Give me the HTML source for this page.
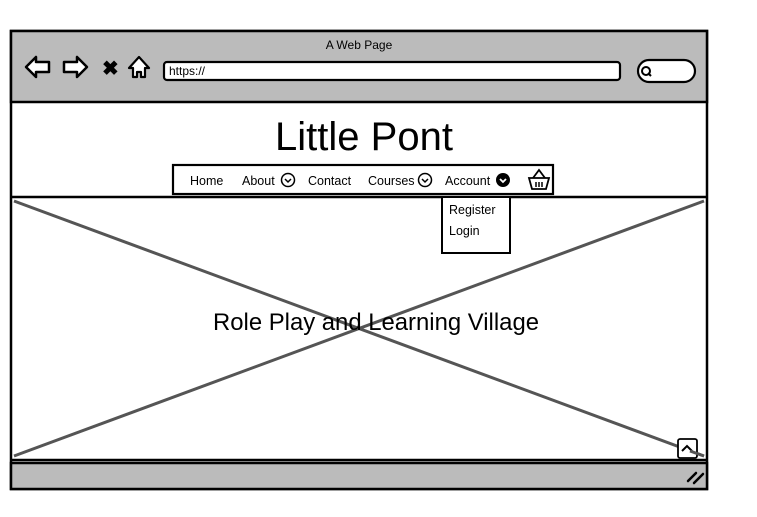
<!DOCTYPE html>
<html><head><meta charset="utf-8"><style>
html,body{margin:0;padding:0;background:#fff;width:757px;height:517px;overflow:hidden}
svg{display:block}
text{font-family:"Liberation Sans",sans-serif;fill:#000}
</style></head><body>
<svg width="757" height="517" viewBox="0 0 757 517">
<rect x="11" y="31" width="696" height="458" fill="#fff" stroke="#000" stroke-width="2.5"/>
<rect x="11" y="31" width="696" height="71" fill="#bbb" stroke="#000" stroke-width="2.5"/>
<text x="359" y="49" font-size="12" text-anchor="middle">A Web Page</text>
<path d="M26 67 L36 57 L36 62 L49 62 L49 72 L36 72 L36 77 Z" fill="#fff" stroke="#000" stroke-width="2.5" stroke-linejoin="round"/>
<path d="M87 67 L77 57 L77 62 L64 62 L64 72 L77 72 L77 77 Z" fill="#fff" stroke="#000" stroke-width="2.5" stroke-linejoin="round"/>
<text x="102" y="75" font-size="20" font-weight="bold">✖</text>
<path d="M129 68 L139 57 L149 68 L145 68 L145 77 L141 77 L141 72 L137 72 L137 77 L133 77 L133 68 Z" fill="#fff" stroke="#000" stroke-width="2.2" stroke-linejoin="round"/>
<rect x="164" y="62" width="456" height="18" rx="3" fill="#fff" stroke="#000" stroke-width="2.2"/>
<text x="169" y="75" font-size="12">https://</text>
<rect x="638" y="60" width="57" height="22" rx="11" fill="#fff" stroke="#000" stroke-width="2.2"/>
<circle cx="646" cy="71" r="4" fill="none" stroke="#000" stroke-width="2"/>
<line x1="648" y1="73" x2="651" y2="76" stroke="#000" stroke-width="2"/>
<text x="364" y="150" font-size="40" text-anchor="middle">Little Pont</text>
<rect x="173" y="165" width="380" height="29" fill="#fff" stroke="#000" stroke-width="2.2"/>
<g font-size="12.5">
<text x="190" y="185">Home</text>
<text x="242" y="185">About</text>
<circle cx="288" cy="180" r="6.5" fill="none" stroke="#000" stroke-width="1.5"/>
<path d="M285 179 L288 182 L291 179" fill="none" stroke="#000" stroke-width="1.5"/>
<text x="308" y="185">Contact</text>
<text x="368" y="185">Courses</text>
<circle cx="425" cy="180" r="6.5" fill="none" stroke="#000" stroke-width="1.5"/>
<path d="M422 179 L425 182 L428 179" fill="none" stroke="#000" stroke-width="1.5"/>
<text x="445" y="185">Account</text>
<circle cx="503" cy="180" r="7" fill="#000"/>
<path d="M500 179 L503 182 L506 179" fill="none" stroke="#fff" stroke-width="1.8"/>
</g>
<path d="M529 178 L549 178 L546 189 L532 189 Z" fill="#fff" stroke="#000" stroke-width="1.8"/>
<path d="M533 178 L539 170 L545 178" fill="none" stroke="#000" stroke-width="1.8"/>
<line x1="536" y1="182" x2="536" y2="187" stroke="#000" stroke-width="1.5"/>
<line x1="539" y1="182" x2="539" y2="187" stroke="#000" stroke-width="1.5"/>
<line x1="542" y1="182" x2="542" y2="187" stroke="#000" stroke-width="1.5"/>
<line x1="11" y1="197" x2="707" y2="197" stroke="#000" stroke-width="2.5"/>
<line x1="14" y1="201" x2="704" y2="456" stroke="#555" stroke-width="3"/>
<line x1="704" y1="201" x2="14" y2="456" stroke="#555" stroke-width="3"/>
<text x="376" y="330" font-size="24" text-anchor="middle" textLength="326" lengthAdjust="spacingAndGlyphs">Role Play and Learning Village</text>
<rect x="442" y="197" width="68" height="56" fill="#fff" stroke="#000" stroke-width="2"/>
<text x="449" y="214" font-size="12.5">Register</text>
<text x="449" y="235" font-size="12.5">Login</text>
<rect x="678" y="439" width="19" height="19" rx="2" fill="#fff" stroke="#000" stroke-width="1.8"/>
<path d="M682 451 L687 446 L692 451" fill="none" stroke="#000" stroke-width="2"/>
<line x1="704" y1="456" x2="690" y2="451" stroke="#555" stroke-width="3"/>
<line x1="11" y1="460" x2="707" y2="460" stroke="#000" stroke-width="2.5"/>
<rect x="11" y="463" width="696" height="26" fill="#bbb" stroke="#000" stroke-width="2.5"/>
<path d="M688 481 L696 473 M694 483 L703 474" stroke="#000" stroke-width="2.5" stroke-linecap="round"/>
</svg>
</body></html>
